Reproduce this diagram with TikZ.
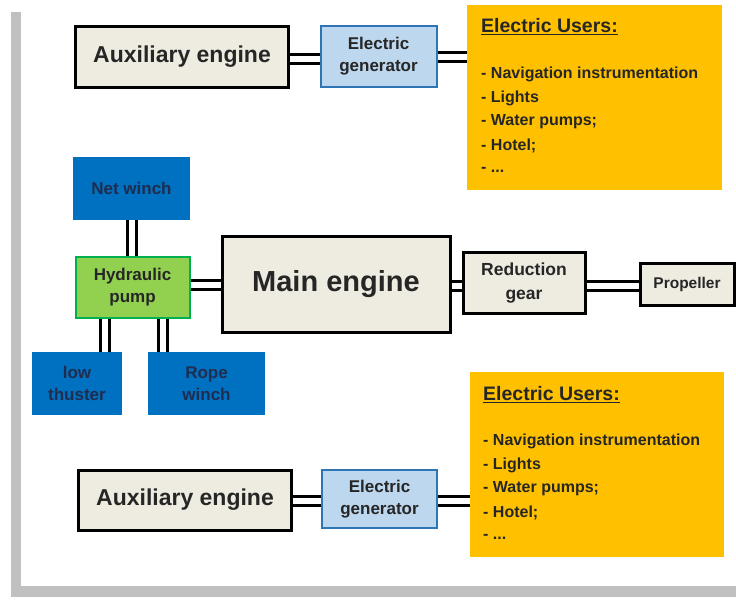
\documentclass[tikz,border=0pt]{standalone}
\usepackage{fontspec}
\setmainfont{Liberation Sans}
\definecolor{fond}{HTML}{EEECE1}
\definecolor{bleu}{HTML}{0070C0}
\definecolor{bleuclair}{HTML}{BDD7EE}
\definecolor{bordbleu}{HTML}{2E75B6}
\definecolor{vert}{HTML}{92D050}
\definecolor{bordvert}{HTML}{00B050}
\definecolor{orange}{HTML}{FFC000}
\definecolor{marine}{HTML}{1F2D4F}
\definecolor{cadre}{HTML}{C0C0C0}
\begin{document}
\begin{tikzpicture}[x=1pt,y=-1pt]
	% Styles
	\tikzstyle{moteur}=[draw=black,line width=3pt,fill=fond,inner sep=0pt,align=center,font=\bfseries,text=black!85]
	\tikzstyle{generateur}=[draw=bordbleu,line width=2pt,fill=bleuclair,inner sep=0pt,align=center,font=\bfseries\fontsize{17}{22}\selectfont,text=black!85]
	\tikzstyle{treuil}=[fill=bleu,inner sep=0pt,align=center,font=\bfseries\fontsize{17}{22}\selectfont,text=marine]
	\tikzstyle{pompe}=[draw=bordvert,line width=2pt,fill=vert,inner sep=0pt,align=center,font=\bfseries\fontsize{17}{22}\selectfont,text=black!85]
	\tikzstyle{usagers}=[fill=orange,inner sep=0pt]
	\tikzstyle{liste}=[anchor=west,inner sep=0pt,font=\bfseries\fontsize{16}{18}\selectfont,text=black!85]
	\tikzstyle{titre}=[anchor=west,inner sep=0pt,font=\bfseries\fontsize{19.5}{22}\selectfont,text=black!85]
	\tikzstyle{arbre}=[line width=3pt,double=white,double distance=6pt]
	% Dimensions
	\def\Interligne{24}
	\useasboundingbox (0,0) rectangle (736,600);
	% Cadre
	\fill[cadre] (11,12) rectangle (21,597);
	\fill[cadre] (11,586) rectangle (736,597);
	% Groupe electrique du haut
	\node[moteur,minimum width=213,minimum height=61,font=\bfseries\fontsize{23}{26}\selectfont] (auxA) at (182,57) {Auxiliary engine};
	\node[generateur,minimum width=116,minimum height=61] (genA) at (378.5,56) {Electric\\generator};
	\node[usagers,minimum width=255,minimum height=185] (usA) at (594.5,97.5) {};
	\node[titre] (usAt) at (481,27) {\underline{Electric Users:}};
	\foreach \i/\txt in {0/- Navigation instrumentation,1/- Lights,2/- Water pumps;,3/- Hotel;,4/{- ...}}
		\node[liste] (usA\i) at (481,{74+\i*\Interligne}) {\txt};
	% Groupe electrique du bas
	\node[moteur,minimum width=213,minimum height=60,font=\bfseries\fontsize{23}{26}\selectfont] (auxB) at (185,500) {Auxiliary engine};
	\node[generateur,minimum width=115,minimum height=58] (genB) at (379.5,499) {Electric\\generator};
	\node[usagers,minimum width=254,minimum height=185] (usB) at (597,464.5) {};
	\node[titre] (usBt) at (483,395) {\underline{Electric Users:}};
	\foreach \i/\txt in {0/- Navigation instrumentation,1/- Lights,2/- Water pumps;,3/- Hotel;,4/{- ...}}
		\node[liste] (usB\i) at (483,{441+\i*\Interligne}) {\txt};
	% Propulsion
	\node[moteur,minimum width=228,minimum height=96,font=\bfseries\fontsize{29}{32}\selectfont] (me) at (336,284) {Main engine};
	\node[moteur,minimum width=122,minimum height=61,font=\bfseries\fontsize{17.5}{24}\selectfont] (rg) at (524,283) {Reduction\\gear};
	\node[moteur,minimum width=94,minimum height=42,font=\bfseries\fontsize{15.5}{18}\selectfont] (pr) at (687,284) {Propeller};
	% Hydraulique
	\node[pompe,minimum width=114,minimum height=61] (hp) at (132.5,287) {Hydraulic\\pump};
	\node[treuil,minimum width=117,minimum height=63] (nw) at (131.5,188.5) {Net winch};
	\node[treuil,minimum width=90,minimum height=63] (bt) at (77,383.5) {low\\thuster};
	\node[treuil,minimum width=117,minimum height=63] (rw) at (206.5,383.5) {Rope\\winch};
	% Arbres
	\draw[arbre] (auxA.east |- 0,59) -- (genA.west |- 0,59);
	\draw[arbre] (genA.east |- 0,57) -- (usA.west |- 0,57);
	\draw[arbre] (auxB.east |- 0,501) -- (genB.west |- 0,501);
	\draw[arbre] (genB.east |- 0,501) -- (usB.west |- 0,501);
	\draw[arbre] (hp.east |- 0,285) -- (me.west |- 0,285);
	\draw[arbre] (me.east |- 0,286) -- (rg.west |- 0,286);
	\draw[arbre] (rg.east |- 0,286) -- (pr.west |- 0,286);
	\draw[arbre] (nw.south -| 132,0) -- (hp.north -| 132,0);
	\draw[arbre] (hp.south -| 105,0) -- (bt.north -| 105,0);
	\draw[arbre] (hp.south -| 163,0) -- (rw.north -| 163,0);
\end{tikzpicture}
\end{document}
